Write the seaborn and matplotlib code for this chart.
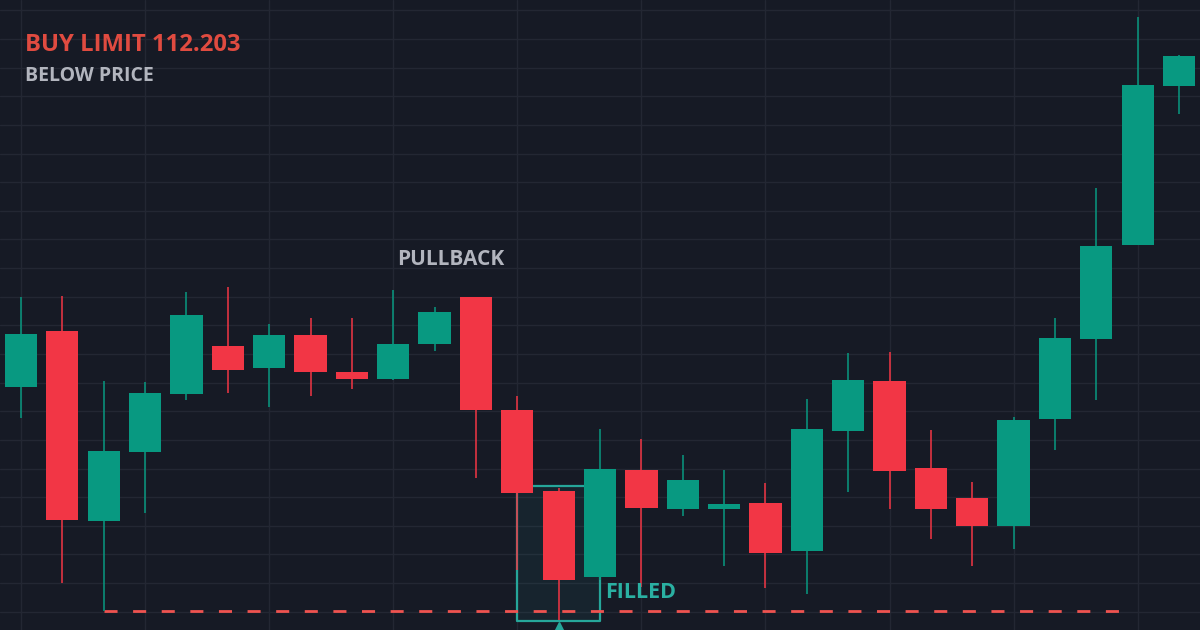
import numpy as np
import pandas as pd
import matplotlib
matplotlib.use("Agg")
import matplotlib.pyplot as plt
import seaborn as sns

# ---- data (prices) ----
opens = [112.594, 112.692, 112.360, 112.480, 112.581, 112.666, 112.626, 112.685, 112.620, 112.607,
         112.668, 112.751, 112.553, 112.412, 112.261, 112.449, 112.380, 112.380, 112.391, 112.307,
         112.517, 112.604, 112.452, 112.400, 112.351, 112.537, 112.677, 112.842, 113.120]
highs = [112.751, 112.753, 112.604, 112.602, 112.759, 112.769, 112.703, 112.715, 112.715, 112.763,
         112.733, 112.751, 112.578, 112.417, 112.520, 112.503, 112.475, 112.449, 112.426, 112.573,
         112.653, 112.654, 112.519, 112.428, 112.541, 112.714, 112.942, 113.240, 113.174]
lows = [112.539, 112.252, 112.203, 112.374, 112.571, 112.583, 112.559, 112.578, 112.590, 112.606,
        112.657, 112.435, 112.274, 112.187, 112.257, 112.245, 112.368, 112.281, 112.242, 112.233,
        112.410, 112.380, 112.328, 112.281, 112.310, 112.484, 112.571, 112.842, 113.070]
closes = [112.687, 112.361, 112.482, 112.583, 112.720, 112.623, 112.685, 112.620, 112.608, 112.669,
          112.725, 112.554, 112.408, 112.257, 112.450, 112.383, 112.431, 112.390, 112.304, 112.520,
          112.606, 112.447, 112.380, 112.351, 112.536, 112.679, 112.840, 113.121, 113.172]

buy_limit = 112.203
limit_start = 2        # candle where the limit line starts
limit_end = 26.85      # where it ends (in candle units)
fill_candle = 13       # candle that filled the order
title_text = "BUY LIMIT 112.203"
subtitle_text = "BELOW PRICE"
pullback_text = "PULLBACK"
filled_text = "FILLED"

df = pd.DataFrame({"open": opens, "high": highs, "low": lows, "close": closes})
df["idx"] = np.arange(len(df))
df["up"] = df["close"] >= df["open"]

# ---- style ----
BG = "#161A25"
GRID = "#232733"
GREEN = "#089981"
RED = "#F23645"
TEAL = "#26A69A"

sns.set_theme(style="dark", rc={"axes.facecolor": BG, "figure.facecolor": BG})
plt.rcParams["font.family"] = ["Open Sans", "DejaVu Sans"]

fig = plt.figure(figsize=(12, 6.3), dpi=100)
ax = fig.add_axes([0, 0, 1, 1])
ax.set_facecolor(BG)

# grid
for gx in np.arange(0, 29, 3):
    ax.axvline(gx, color=GRID, lw=1, zorder=0)
for gy in np.arange(112.2013 - 0.05, 113.35, 0.05):
    ax.axhline(gy, color=GRID, lw=1, zorder=0)

# filled box around the fill candle
f = df.iloc[fill_candle]
ax.fill_between([fill_candle - 1, fill_candle + 1], f["low"] - 0.0017, f["high"] + 0.003,
                color=TEAL, alpha=0.08, lw=0, zorder=1)
ax.plot([fill_candle - 1, fill_candle - 1, fill_candle + 1, fill_candle + 1, fill_candle - 1],
        [f["high"] + 0.003, f["low"] - 0.0017, f["low"] - 0.0017, f["high"] + 0.003, f["high"] + 0.003],
        color=TEAL, lw=1.6, zorder=1.5)

# limit line
ax.plot([limit_start, limit_end], [buy_limit, buy_limit], color="#EF5350", lw=2.0,
        linestyle=(0, (4.7, 5.6)), solid_capstyle="butt", dash_capstyle="butt", zorder=2)

# candles
colors = np.where(df["up"], GREEN, RED)
ax.vlines(df["idx"], df["low"], df["high"], colors=colors, lw=1.1, zorder=3)
body_bottom = np.minimum(df["open"], df["close"])
body_h = np.abs(df["close"] - df["open"])
ax.bar(df["idx"], body_h, bottom=body_bottom, width=0.78, color=colors, lw=0, zorder=4)

# triangle marker
ax.plot([fill_candle], [f["low"] - 0.0175], marker="^", color=TEAL, markersize=12, lw=0,
        zorder=5, clip_on=True)

# texts
ax.text(0.021, 0.929, title_text, transform=ax.transAxes, color="#E04B40", fontsize=17.2,
        fontweight="bold", va="center", ha="left")
ax.text(0.021, 0.880, subtitle_text, transform=ax.transAxes, color="#B2B5BE", fontsize=14,
        fontweight="bold", va="center", ha="left")
ax.text(9.09, 112.817, pullback_text, color="#B2B5BE", fontsize=15, fontweight="bold",
        va="center", ha="left")
ax.text(14.12, 112.234, filled_text, color="#2AB0A2", fontsize=15.5, fontweight="bold",
        va="center", ha="left")

ax.set_xlim(-0.508, 28.507)
ax.set_ylim(112.203 - 19.3 * 0.0017464, 112.203 + 610.7 * 0.0017464)
ax.set_xticks([])
ax.set_yticks([])
for s in ax.spines.values():
    s.set_visible(False)

fig.savefig("out.png", dpi=100, facecolor=BG)
